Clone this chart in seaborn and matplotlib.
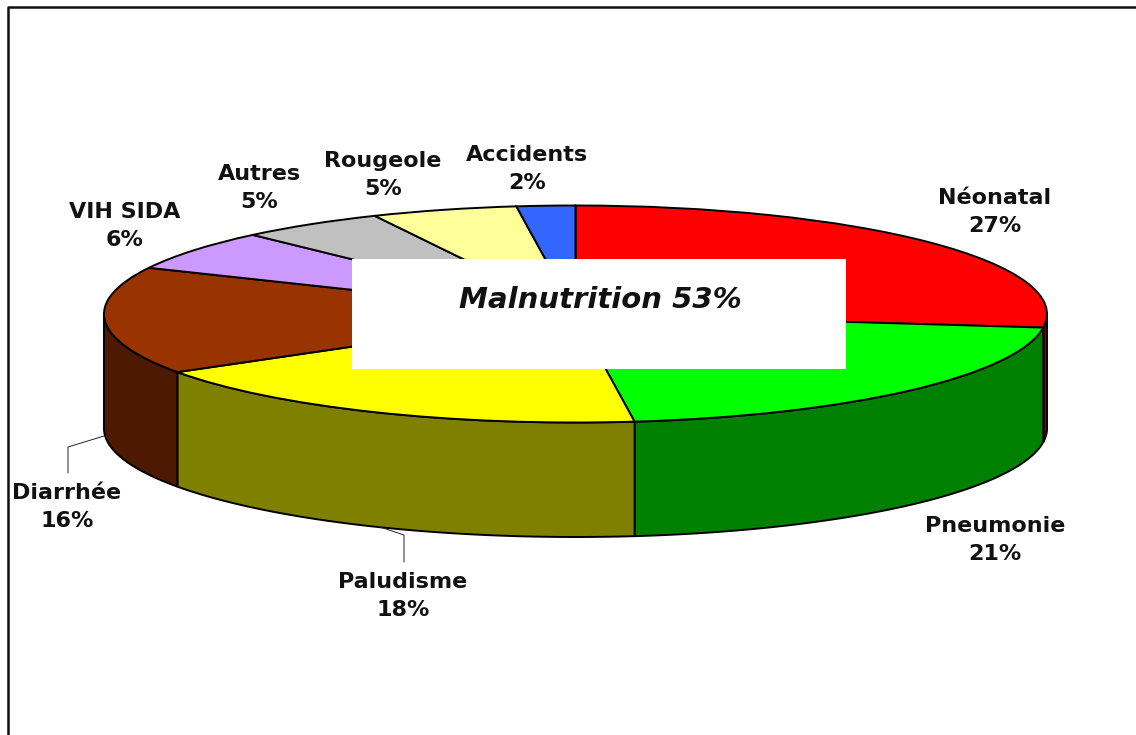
# Causes de mortalite infantile - camembert "3D" avec encart malnutrition

import numpy as np
import matplotlib
matplotlib.use('Agg')
import matplotlib.pyplot as plt
from matplotlib.patches import Rectangle
import seaborn as sns

causes = ['Néonatal', 'Pneumonie', 'Paludisme', 'Diarrhée', 'VIH SIDA', 'Autres', 'Rougeole', 'Accidents']
values = [27, 21, 18, 16, 6, 5, 5, 2]
top_colors = ['#FF0000', '#00FF00', '#FFFF00', '#993300', '#CC99FF', '#C0C0C0', '#FFFF99', '#3366FF']
side_colors = ['#800000', '#008000', '#808000', '#4D1900', '#663399', '#606060', '#808040', '#1A3380']
inset_text = 'Malnutrition 53%'

W, H = 1136, 735
# Ellipse of the pie top, in reference pixels
CX, CY, RX, RY = 575.5, 314, 471.5, 108.5
DEPTH = 114.5 / RY

# Label centres in pixels
label_pos = [(995, 212), (995, 540), (403, 596), (67, 507), (125, 226), (259, 188), (383, 175), (527, 169)]


def fig_xy(x, y):
    # pixel position (y down) to figure fraction
    return x / W, 1 - y / H


sns.set_theme(style='white')
plt.rcParams['font.family'] = ['DejaVu Sans']

fig = plt.figure(figsize=(W / 100, H / 100), dpi=100, facecolor='white')
ax = fig.add_axes([0, 0, 1, 1])

# Pie side wall, only the front half of the cylinder can be seen
edges = np.r_[0, np.cumsum(values)] / sum(values)
for start, stop, color in zip(edges[:-1], edges[1:], sns.color_palette(side_colors)):
    a0, a1 = 90 - 360 * start, 90 - 360 * stop
    a0, a1 = min(a0, 0), max(a1, -180)
    if a0 <= a1:
        continue
    t = np.radians(np.linspace(a0, a1, 80))
    x, y = np.cos(t), np.sin(t)
    ax.fill(np.r_[x, x[::-1]], np.r_[y, y[::-1] - DEPTH], facecolor=color,
            edgecolor='black', linewidth=1.4, joinstyle='round')

ax.pie(values, colors=sns.color_palette(top_colors), startangle=90, counterclock=False,
       wedgeprops={'edgecolor': 'black', 'linewidth': 1.4})
# Squash the pie into an ellipse
ax.set_aspect('auto')
ax.set_xlim(-CX / RX, (W - CX) / RX)
ax.set_ylim((CY - H) / RY, CY / RY)
ax.axis('off')

# Labels
for cause, value, (lx, ly) in zip(causes, values, label_pos):
    fig.text(*fig_xy(lx, ly), f'{cause}\n{value}%', ha='center', va='center', ma='center',
             fontsize=16, fontweight='bold', color='#111111', linespacing=1.47, zorder=5)

# Leader lines for Diarrhée and Paludisme
for xs, ys in [([104, 68, 68], [436, 447, 473]), ([377, 404, 404], [526, 535, 562])]:
    fx, fy = fig_xy(np.array(xs), np.array(ys))
    fig.add_artist(plt.Line2D(fx, fy, color='#222222', linewidth=0.7))

# White inset
x0, y1 = fig_xy(352, 369)
x1, y0 = fig_xy(846, 259)
fig.add_artist(Rectangle((x0, y1), x1 - x0, y0 - y1, transform=fig.transFigure,
                         facecolor='white', edgecolor='none', zorder=3))
fig.text(*fig_xy(600, 300), inset_text, ha='center', va='center', fontsize=21,
         fontweight='bold', fontstyle='italic', color='#111111', zorder=5)

# Chart frame, cropped on the right and at the bottom
fx, fy = fig_xy(np.array([8, 8, W]), np.array([H, 7, 7]))
fig.add_artist(plt.Line2D(fx, fy, color='#111111', linewidth=1.8))

fig.savefig('out.png', dpi=100)
